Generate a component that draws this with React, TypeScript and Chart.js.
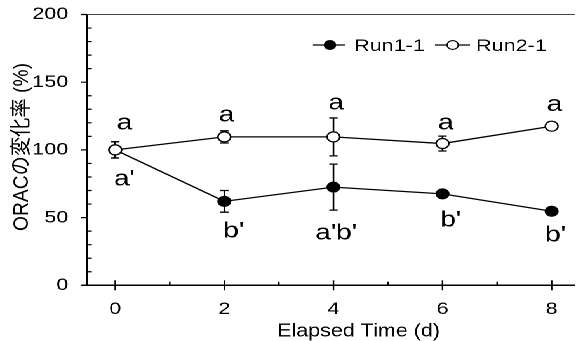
import React, { useEffect, useRef } from 'react';
import { Chart, registerables } from 'chart.js';

Chart.register(...registerables);

// ---- data ----
const days = [0, 2, 4, 6, 8];
const run1Values = [100, 62, 72.5, 67.5, 54.7];
const run1Errors = [6, 8, 17, 2, 2];
const run2Values = [100, 109.6, 109.6, 104.7, 117.5];
const run2Errors = [6, 4.5, 14, 5.5, 2];
const seriesNames = ['Run1-1', 'Run2-1'];
const xTickValues = [0, 2, 4, 6, 8];
const xMinorTickValues = [1, 3, 5, 7];
const yTickValues = [0, 50, 100, 150, 200];
const yMinorTickValues = [10, 20, 30, 40, 60, 70, 80, 90, 110, 120, 130, 140, 160, 170, 180, 190];
const xTitle = 'Elapsed Time (d)';
const yTitle = 'ORACの変化率 (%)';
const letterTexts = ['a', 'a', 'a', 'a', 'a', "a'", "b'", "a'b'", "b'", "b'"];
const letterX = [0.17, 2.04, 4.05, 6.06, 8.05, 0.17, 2.17, 4.05, 6.15, 8.07];
const letterY = [115, 121, 129.8, 115, 128.6, 73.7, 35.2, 33.8, 43.6, 32.3];

const W = 459;
const H = 341;
const STRETCH = 583 / W;
const FONT = "'Liberation Sans', Arial, 'Noto Sans CJK JP', sans-serif";

const overlayPlugin = {
  id: 'overlay',
  beforeDatasetsDraw(chart: any) {
    const ctx = chart.ctx;
    const xs = chart.scales.x;
    const ys = chart.scales.y;
    const all = [
      [run1Values, run1Errors],
      [run2Values, run2Errors],
    ];
    ctx.save();
    ctx.strokeStyle = '#000';
    ctx.lineWidth = 1.3;
    all.forEach(([vals, errs]) => {
      days.forEach((d, i) => {
        const px = xs.getPixelForValue(d);
        const t = ys.getPixelForValue(vals[i] + errs[i]);
        const b = ys.getPixelForValue(vals[i] - errs[i]);
        ctx.beginPath();
        ctx.moveTo(px, t);
        ctx.lineTo(px, b);
        ctx.moveTo(px - 3.3, t);
        ctx.lineTo(px + 3.3, t);
        ctx.moveTo(px - 3.3, b);
        ctx.lineTo(px + 3.3, b);
        ctx.stroke();
      });
    });
    ctx.restore();
  },
  afterDraw(chart: any) {
    const ctx = chart.ctx;
    const xs = chart.scales.x;
    const ys = chart.scales.y;
    const { left, right, top, bottom } = chart.chartArea;
    ctx.save();
    // top frame line
    ctx.strokeStyle = '#444';
    ctx.lineWidth = 1;
    ctx.beginPath();
    ctx.moveTo(left - 4, top);
    ctx.lineTo(right, top);
    ctx.stroke();
    // axes
    ctx.strokeStyle = '#000';
    ctx.lineWidth = 1.5;
    ctx.beginPath();
    ctx.moveTo(left, top);
    ctx.lineTo(left, bottom);
    ctx.moveTo(left - 4, bottom);
    ctx.lineTo(right, bottom);
    ctx.stroke();
    ctx.lineWidth = 1.2;
    ctx.beginPath();
    yTickValues.forEach((v) => {
      const py = ys.getPixelForValue(v);
      ctx.moveTo(left - 4.3, py);
      ctx.lineTo(left, py);
    });
    yMinorTickValues.forEach((v) => {
      const py = ys.getPixelForValue(v);
      ctx.moveTo(left, py);
      ctx.lineTo(left + 4, py);
    });
    xTickValues.forEach((v) => {
      const px = xs.getPixelForValue(v);
      ctx.moveTo(px, bottom - 5);
      ctx.lineTo(px, bottom + 5);
    });
    xMinorTickValues.forEach((v) => {
      const px = xs.getPixelForValue(v);
      ctx.moveTo(px, bottom - 3.5);
      ctx.lineTo(px, bottom);
    });
    ctx.stroke();

    ctx.fillStyle = '#000';
    // x title
    ctx.font = `18px ${FONT}`;
    ctx.textAlign = 'center';
    ctx.textBaseline = 'alphabetic';
    {
      const w = ctx.measureText(xTitle).width;
      ctx.save();
      ctx.translate(282.3, 336.5);
      ctx.scale(128.3 / w, 1);
      ctx.fillText(xTitle, 0, 0);
      ctx.restore();
    }
    // y title
    ctx.font = `17px ${FONT}`;
    {
      const w = ctx.measureText(yTitle).width;
      ctx.save();
      ctx.translate(22, 147);
      ctx.rotate(-Math.PI / 2);
      ctx.scale(168 / w, 1);
      ctx.fillText(yTitle, 0, 0);
      ctx.restore();
    }
    // significance letters
    ctx.font = `22px ${FONT}`;
    ctx.textAlign = 'center';
    letterTexts.forEach((t, i) => {
      ctx.fillText(t, xs.getPixelForValue(letterX[i]), ys.getPixelForValue(letterY[i]));
    });
    // legend
    const legendItems = [
      { x0: 246.4, x1: 271.7, cx: 259.8, tx: 278.7, fill: '#000' },
      { x0: 342.5, x1: 370, cx: 356.4, tx: 374.8, fill: '#fff' },
    ];
    ctx.font = `17px ${FONT}`;
    ctx.textAlign = 'left';
    legendItems.forEach((it, i) => {
      ctx.strokeStyle = '#000';
      ctx.lineWidth = 1.3;
      ctx.beginPath();
      ctx.moveTo(it.x0, 45);
      ctx.lineTo(it.x1, 45);
      ctx.stroke();
      ctx.beginPath();
      ctx.arc(it.cx, 45, 4.4, 0, Math.PI * 2);
      ctx.fillStyle = it.fill;
      ctx.fill();
      ctx.lineWidth = 1.1;
      ctx.stroke();
      ctx.fillStyle = '#000';
      ctx.fillText(seriesNames[i], it.tx, 51);
    });
    ctx.restore();
  },
};

export default function App() {
  const ref = useRef<HTMLCanvasElement | null>(null);
  useEffect(() => {
    if (!ref.current) return;
    const chart = new Chart(ref.current, {
      type: 'line',
      data: {
        datasets: [
          {
            label: seriesNames[0],
            data: days.map((d, i) => ({ x: d, y: run1Values[i] })),
            borderColor: '#000',
            borderWidth: 1.3,
            pointRadius: 5,
            pointBackgroundColor: '#000',
            pointBorderColor: '#000',
            pointBorderWidth: 1,
            order: 1,
            tension: 0,
          },
          {
            label: seriesNames[1],
            data: days.map((d, i) => ({ x: d, y: run2Values[i] })),
            borderColor: '#000',
            borderWidth: 1.3,
            pointRadius: 5,
            pointBackgroundColor: '#fff',
            pointBorderColor: '#000',
            pointBorderWidth: 1.2,
            order: 0,
            tension: 0,
          },
        ],
      },
      options: {
        animation: false,
        responsive: false,
        devicePixelRatio: 2,
        events: [],
        layout: { padding: { top: 14.5, left: 0, right: 0, bottom: 0 } },
        plugins: {
          legend: { display: false },
          tooltip: { enabled: false },
        },
        font: { family: FONT },
        scales: {
          x: {
            type: 'linear',
            min: -0.522,
            max: 8.43,
            afterBuildTicks: (s: any) => {
              s.ticks = xTickValues.map((v) => ({ value: v }));
            },
            afterFit: (s: any) => {
              s.height = H - 285.3;
              s.paddingLeft = 0;
              s.paddingRight = 0;
            },
            grid: { display: false, drawTicks: false },
            border: { display: false },
            ticks: {
              color: '#000',
              font: { size: 17, family: FONT },
              padding: 14,
              maxRotation: 0,
              autoSkip: false,
            },
          },
          y: {
            type: 'linear',
            min: 0,
            max: 200,
            afterBuildTicks: (s: any) => {
              s.ticks = yTickValues.map((v) => ({ value: v }));
            },
            afterFit: (s: any) => {
              s.width = 68.3;
              s.paddingTop = 0;
              s.paddingBottom = 0;
            },
            grid: { display: false, drawTicks: false },
            border: { display: false },
            ticks: {
              color: '#000',
              font: { size: 17, family: FONT },
              padding: 14.5,
              autoSkip: false,
            },
          },
        },
      } as any,
      plugins: [overlayPlugin],
    });
    return () => chart.destroy();
  }, []);
  return (
    <div
      style={{
        position: 'absolute',
        left: 0,
        top: 0,
        width: W,
        height: H,
        transform: `scaleX(${STRETCH})`,
        transformOrigin: '0 0',
        background: '#fff',
      }}
    >
      <canvas ref={ref} width={W} height={H} style={{ width: W, height: H, display: 'block' }} />
    </div>
  );
}
